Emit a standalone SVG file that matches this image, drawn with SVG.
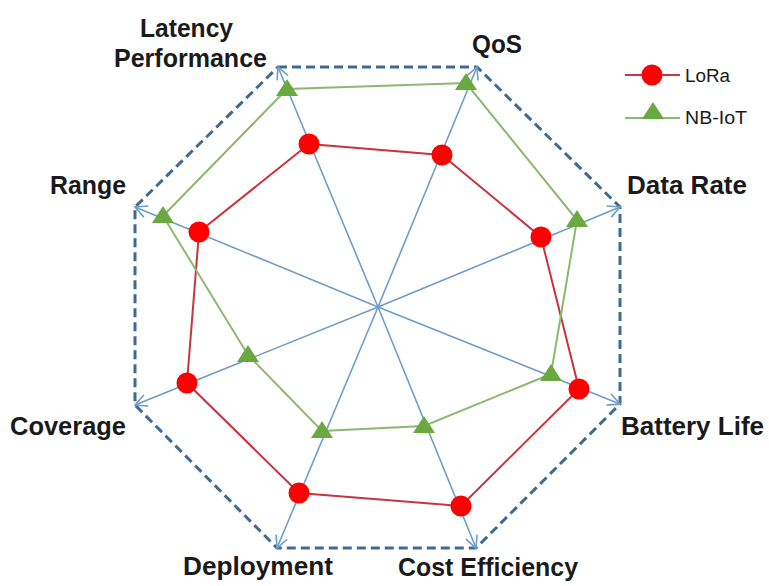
<svg xmlns="http://www.w3.org/2000/svg" width="769" height="586" viewBox="0 0 769 586">
<style>
.lbl{font-family:"Liberation Sans",Arial,sans-serif;font-weight:bold;font-size:25px;fill:#1a1a1a}
.leg{font-family:"Liberation Sans",Arial,sans-serif;font-size:18px;fill:#1a1a1a}
.axis{stroke:#6e9dc9;stroke-width:1.6;fill:none}
.oct{stroke:#3f6a96;stroke-width:3;stroke-dasharray:9 5;fill:none}
.lora{stroke:#c8343f;stroke-width:2;fill:none}
.nb{stroke:#8cb870;stroke-width:2;fill:none}
.dot{fill:#ff0000}
.tri{fill:#6aa842}
</style>
<defs>
<marker id="arr" viewBox="0 0 14 14" refX="13" refY="7" markerWidth="14" markerHeight="14" markerUnits="userSpaceOnUse" orient="auto">
<path d="M1,1 L13,7 L1,13" fill="none" stroke="#6e9dc9" stroke-width="1.6"/>
</marker>
<polygon id="t" points="0,-10 11,7 -11,7"/>
</defs>
<rect width="769" height="586" fill="#ffffff"/>
<g id="frame">
<polygon class="oct" points="278,67 477,67 620,207 620,404 476,548 277,548 135,405 135,207"/>
</g>
<g id="connectors">
<line class="axis" x1="378" y1="307" x2="278" y2="67" marker-end="url(#arr)"/>
<line class="axis" x1="378" y1="307" x2="477" y2="67" marker-end="url(#arr)"/>
<line class="axis" x1="378" y1="307" x2="620" y2="207" marker-end="url(#arr)"/>
<line class="axis" x1="378" y1="307" x2="620" y2="404" marker-end="url(#arr)"/>
<line class="axis" x1="378" y1="307" x2="476" y2="548" marker-end="url(#arr)"/>
<line class="axis" x1="378" y1="307" x2="277" y2="548" marker-end="url(#arr)"/>
<line class="axis" x1="378" y1="307" x2="135" y2="405" marker-end="url(#arr)"/>
<line class="axis" x1="378" y1="307" x2="135" y2="207" marker-end="url(#arr)"/>
</g>
<g id="series-lora">
<polygon class="lora" points="309,144 442,155 541,237 579,389 461,506 299,493 187,383 199,232"/>
</g>
<g id="series-nbiot">
<polygon class="nb" points="287,89 466,83 577,220 551,374 424,426 322,431 248,355 163,216"/>
</g>
<g id="markers-lora">
<circle class="dot" cx="309" cy="144" r="10.5"/>
<circle class="dot" cx="442" cy="155" r="10.5"/>
<circle class="dot" cx="541" cy="237" r="10.5"/>
<circle class="dot" cx="579" cy="389" r="10.5"/>
<circle class="dot" cx="461" cy="506" r="10.5"/>
<circle class="dot" cx="299" cy="493" r="10.5"/>
<circle class="dot" cx="187" cy="383" r="10.5"/>
<circle class="dot" cx="199" cy="232" r="10.5"/>
</g>
<g id="markers-nbiot">
<use href="#t" class="tri" x="287" y="89"/>
<use href="#t" class="tri" x="466" y="83"/>
<use href="#t" class="tri" x="577" y="220"/>
<use href="#t" class="tri" x="551" y="374"/>
<use href="#t" class="tri" x="424" y="426"/>
<use href="#t" class="tri" x="322" y="431"/>
<use href="#t" class="tri" x="248" y="355"/>
<use href="#t" class="tri" x="163" y="216"/>
</g>
<g id="labels">
<text class="lbl" x="140" y="37" textLength="93" lengthAdjust="spacingAndGlyphs">Latency</text>
<text class="lbl" x="114" y="67" textLength="153" lengthAdjust="spacingAndGlyphs">Performance</text>
<text class="lbl" x="472" y="53" textLength="50" lengthAdjust="spacingAndGlyphs">QoS</text>
<text class="lbl" x="627" y="194" textLength="120" lengthAdjust="spacingAndGlyphs">Data Rate</text>
<text class="lbl" x="621" y="435" textLength="143" lengthAdjust="spacingAndGlyphs">Battery Life</text>
<text class="lbl" x="398" y="576" textLength="180" lengthAdjust="spacingAndGlyphs">Cost Efficiency</text>
<text class="lbl" x="183" y="575" textLength="150" lengthAdjust="spacingAndGlyphs">Deployment</text>
<text class="lbl" x="10" y="435" textLength="116" lengthAdjust="spacingAndGlyphs">Coverage</text>
<text class="lbl" x="50" y="194" textLength="76" lengthAdjust="spacingAndGlyphs">Range</text>
</g>
<g id="legend">
<line x1="625" y1="75" x2="680" y2="75" stroke="#c8343f" stroke-width="2"/>
<circle class="dot" cx="652" cy="75" r="10.5"/>
<text class="leg" x="685" y="82" textLength="45" lengthAdjust="spacingAndGlyphs">LoRa</text>
<line x1="625" y1="118" x2="680" y2="118" stroke="#8cb870" stroke-width="2"/>
<use href="#t" class="tri" x="653" y="112"/>
<text class="leg" x="685" y="124" textLength="62" lengthAdjust="spacingAndGlyphs">NB-IoT</text>
</g>
</svg>
